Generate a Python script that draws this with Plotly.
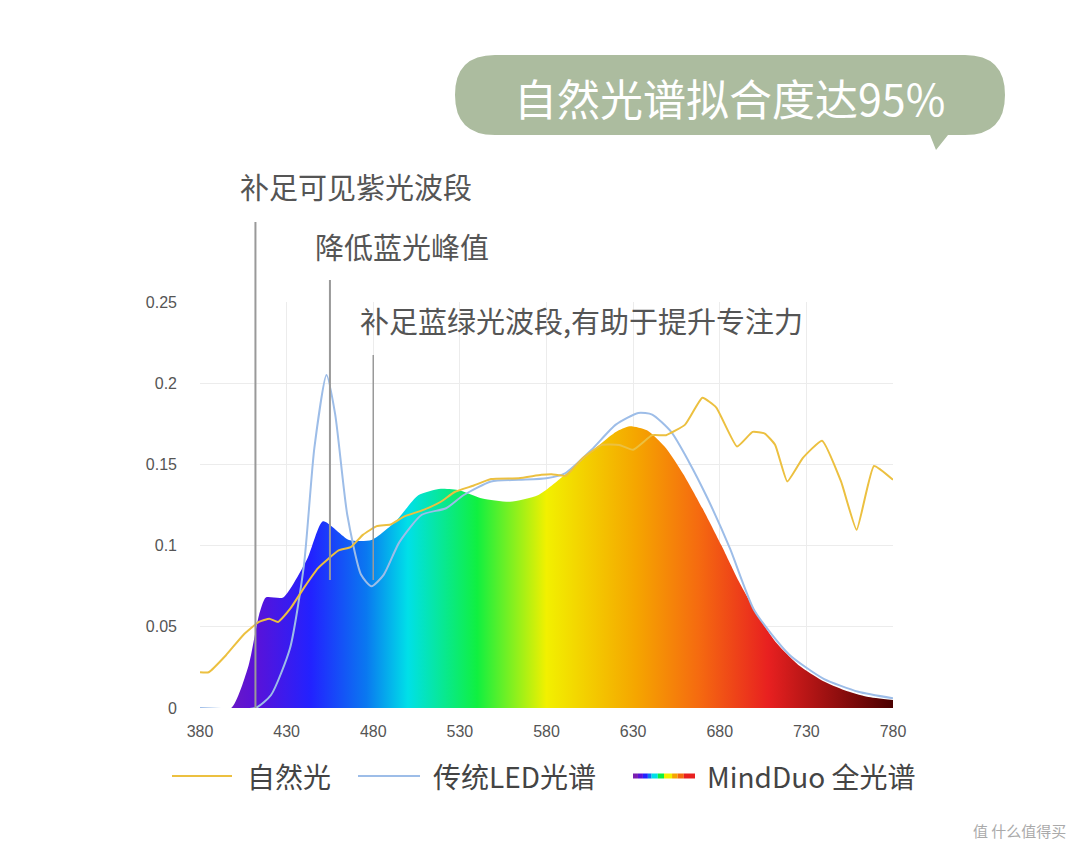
import plotly.graph_objects as go

# spectra (relative power)
mind_nm = [380, 398, 408, 414, 418, 428, 442, 451, 466, 479, 493, 506, 519, 530, 543, 559, 575, 591,
           606, 620, 628, 638, 649, 659, 670, 681, 691, 702, 712, 726, 739, 752, 765, 780]
mind_val = [0, 0, 0.026, 0.057, 0.068, 0.068, 0.092, 0.115, 0.1035, 0.1035, 0.115, 0.131, 0.135, 0.134, 0.129,
            0.127, 0.131, 0.144, 0.158, 0.170, 0.1735, 0.171, 0.160, 0.144, 0.123, 0.100, 0.078, 0.057, 0.041,
            0.026, 0.017, 0.011, 0.007, 0.005]

led_nm = [380, 412, 421, 432, 440, 446, 453, 458, 465, 473, 479, 486, 495, 508, 522, 532, 548, 564, 580,
          591, 606, 620, 633, 641, 652, 662, 673, 686, 700, 720, 740, 760, 780]
led_val = [0, 0, 0.008, 0.037, 0.088, 0.16, 0.205, 0.181, 0.119, 0.082, 0.075, 0.082, 0.102, 0.119, 0.123,
           0.131, 0.1395, 0.1405, 0.1415, 0.1447, 0.159, 0.1745, 0.1817, 0.1807, 0.170, 0.152, 0.129, 0.098,
           0.06, 0.033, 0.018, 0.01, 0.006]

nat_nm = [380, 385, 395, 405, 414, 420, 425, 432, 440, 448, 460, 467, 474, 482, 490, 498, 509, 519, 527,
          538, 548, 564, 577, 583, 591, 601, 612, 622, 630, 641, 649, 660, 670, 678, 690, 699, 706, 712,
          719, 728, 739, 750, 759, 769, 780]
nat_val = [0.022, 0.022, 0.0325, 0.045, 0.053, 0.055, 0.053, 0.061, 0.074, 0.086, 0.097, 0.099, 0.1066,
           0.112, 0.113, 0.118, 0.122, 0.127, 0.133, 0.137, 0.141, 0.1415, 0.1436, 0.144, 0.143, 0.154,
           0.162, 0.162, 0.159, 0.168, 0.168, 0.1745, 0.191, 0.185, 0.161, 0.170, 0.169, 0.162, 0.1395,
           0.154, 0.1646, 0.1395, 0.1097, 0.149, 0.1405]

x_ticks = [380, 430, 480, 530, 580, 630, 680, 730, 780]
y_ticks = [0, 0.05, 0.1, 0.15, 0.2, 0.25]
y_labels = ["0", "0.05", "0.1", "0.15", "0.2", "0.25"]

callouts = ["补足可见紫光波段", "降低蓝光峰值", "补足蓝绿光波段,有助于提升专注力"]
callout_nm = [412, 455, 480]
legend_names = ["自然光", "传统LED光谱", "MindDuo 全光谱"]

rainbow = [[0.0, "#7a1fb0"], [0.08, "#5a12d8"], [0.16, "#2222ff"], [0.24, "#0a78f0"], [0.3, "#00e0e8"],
           [0.4, "#10f040"], [0.5, "#f2f000"], [0.63, "#f5a500"], [0.72, "#f56a10"], [0.82, "#e82020"],
           [1.0, "#4a0000"]]

FONT = "Noto Sans CJK SC"
L, R, T, B = 200, 893, 302, 708
OFF = 8  # page body margin


def px(x):
    return (x - L) / (R - L)


def py(y):
    return (B - y) / (B - T)


fig = go.Figure()
fig.add_trace(go.Scatter(x=mind_nm, y=mind_val, mode="lines", line=dict(width=0, shape="spline", smoothing=0.6),
                         fill="tozeroy",
                         fillgradient=dict(type="horizontal", colorscale=rainbow, start=380, stop=780),
                         hoverinfo="skip"))
fig.add_trace(go.Scatter(x=led_nm, y=led_val, mode="lines",
                         line=dict(color="#9dbde8", width=2, shape="spline", smoothing=0.6)))
fig.add_trace(go.Scatter(x=nat_nm, y=nat_val, mode="lines",
                         line=dict(color="#ecc040", width=2, shape="spline", smoothing=0.4)))

shapes = []
# callout lines
shapes.append(dict(type="line", xref="x", yref="paper", x0=callout_nm[0], x1=callout_nm[0],
                   y0=0, y1=py(222), line=dict(color="#999", width=2)))
shapes.append(dict(type="line", xref="x", yref="paper", x0=callout_nm[1], x1=callout_nm[1],
                   y0=py(580), y1=py(280), line=dict(color="#999", width=2)))
shapes.append(dict(type="line", xref="x", yref="paper", x0=callout_nm[2], x1=callout_nm[2],
                   y0=py(580), y1=py(355), line=dict(color="#999", width=1.5)))

# speech bubble
bx0, bx1, by0, by1 = px(455), px(1005), py(55), py(135)
rx, ry = 40 / (R - L), 40 / (B - T)
path = (f"M{bx0+rx},{by0} L{bx1-rx},{by0} Q{bx1},{by0} {bx1},{by0-ry} L{bx1},{by1+ry} "
        f"Q{bx1},{by1} {bx1-rx},{by1} L{px(948)},{by1} L{px(936)},{py(150)} L{px(930)},{by1} "
        f"L{bx0+rx},{by1} Q{bx0},{by1} {bx0},{by1+ry} L{bx0},{by0-ry} Q{bx0},{by0} {bx0+rx},{by0} Z")
shapes.append(dict(type="path", xref="paper", yref="paper", path=path, fillcolor="#acbc9f",
                   line=dict(width=0), layer="below"))

# legend samples
ly = py(776)
shapes.append(dict(type="line", xref="paper", yref="paper", x0=px(172), x1=px(232), y0=ly, y1=ly,
                   line=dict(color="#ecc040", width=2)))
shapes.append(dict(type="line", xref="paper", yref="paper", x0=px(358), x1=px(420), y0=ly, y1=ly,
                   line=dict(color="#9dbde8", width=2)))
n = len(rainbow) - 1
for i in range(n):
    a = 633 + 62 * rainbow[i][0]
    b = 633 + 62 * rainbow[i + 1][0]
    shapes.append(dict(type="line", xref="paper", yref="paper", x0=px(a), x1=px(b), y0=ly, y1=ly,
                       line=dict(color=rainbow[i][1], width=5)))


def label(text, x, y, size, color, xanchor="left"):
    return dict(text=text, x=px(x), y=py(y), xref="paper", yref="paper", xanchor=xanchor,
                yanchor="middle", showarrow=False, font=dict(family=FONT, size=size, color=color))


ann = [label("自然光谱拟合度达95%", 729, 97, 43, "white", "center"),
       label(callouts[0], 238, 186, 29, "#555"),
       label(callouts[1], 313, 246, 29, "#555"),
       label(callouts[2], 358, 320, 29, "#555")]
for name, xx in zip(legend_names, [245, 431, 705]):
    ann.append(label(name, xx, 776, 28, "#444"))
ann.append(label("值 什么值得买", 1068, 830, 15, "#aaa", "right"))

fig.update_layout(
    width=1080, height=853, margin=dict(l=L - OFF, r=1080 - R + OFF, t=T - OFF, b=853 - B + OFF),
    paper_bgcolor="white", plot_bgcolor="white", showlegend=False,
    xaxis=dict(range=[380, 780], tickvals=x_ticks, showgrid=True, gridcolor="#ececec", zeroline=False,
               showline=False, ticks="", ticklabelstandoff=12,
               tickfont=dict(family="Liberation Sans", size=16, color="#555")),
    yaxis=dict(range=[0, 0.25], tickvals=y_ticks, ticktext=y_labels, showgrid=True, gridcolor="#ececec",
               zeroline=False, ticks="", ticklabelstandoff=22,
               tickfont=dict(family="Liberation Sans", size=16, color="#555")),
    shapes=shapes, annotations=ann,
)
fig.write_html("out.html")
